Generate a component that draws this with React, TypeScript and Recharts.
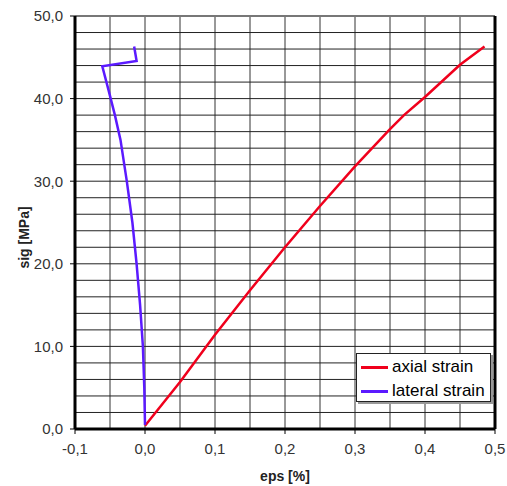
import { LineChart, Line, XAxis, YAxis, ReferenceLine } from "recharts";

const axialEps = [0, 0.05, 0.1, 0.15, 0.2, 0.25, 0.3, 0.35, 0.37, 0.4, 0.45, 0.485];
const axialSig = [0.4, 5.7, 11.4, 16.8, 22.0, 27.0, 31.8, 36.3, 38.0, 40.2, 44.1, 46.3];

const lateralEps = [0, -0.001, -0.003, -0.007, -0.012, -0.018, -0.026, -0.035, -0.043, -0.052, -0.061, -0.012, -0.0155];
const lateralSig = [0.5, 5, 10, 15, 20, 25, 30, 35, 38, 41, 43.9, 44.55, 46.3];

const seriesNames = ["axial strain", "lateral strain"];
const seriesColors = ["#f0001c", "#5b1aff"];

const xTicks = [-0.1, 0, 0.1, 0.2, 0.3, 0.4, 0.5];
const yTicks = [0, 10, 20, 30, 40, 50];
const xGrid = [-0.05, 0, 0.05, 0.1, 0.15, 0.2, 0.25, 0.3, 0.35, 0.4, 0.45];
const yGrid = [2, 4, 6, 8, 10, 12, 14, 16, 18, 20, 22, 24, 26, 28, 30, 32, 34, 36, 38, 40, 42, 44, 46, 48];

const axial = axialEps.map((eps, i) => ({ eps, sig: axialSig[i] }));
const lateral = lateralEps.map((eps, i) => ({ eps, sig: lateralSig[i] }));

const font = "'Liberation Sans', Arial, sans-serif";
const fmt = (v: number) => v.toFixed(1).replace(".", ",");

export default function App() {
  return (
    <div style={{ position: "absolute", left: 0, top: 0, width: 507, height: 486, background: "#fff", fontFamily: font }}>
      <LineChart width={507} height={486} margin={{ top: 16, right: 12, left: 0, bottom: 0 }}>
        <XAxis
          type="number"
          dataKey="eps"
          domain={[-0.1, 0.5]}
          ticks={xTicks}
          tickFormatter={fmt}
          height={57}
          tickSize={5}
          tickMargin={9}
          axisLine={{ stroke: "#000", strokeWidth: 3 }}
          tickLine={{ stroke: "#000" }}
          tick={{ fill: "#333", fontSize: 15, fontFamily: font }}
          allowDataOverflow
          label={{
            content: ({ viewBox }: any) => (
              <text
                x={viewBox.x + viewBox.width / 2}
                y={viewBox.y + 48}
                textAnchor="middle"
                dominantBaseline="middle"
                fontSize={14}
                fontWeight="bold"
                fontFamily={font}
                fill="#222"
              >
                eps [%]
              </text>
            ),
          }}
        />
        <YAxis
          type="number"
          dataKey="sig"
          domain={[0, 50]}
          ticks={yTicks}
          tickFormatter={fmt}
          width={75}
          tickSize={5}
          tickMargin={7}
          axisLine={{ stroke: "#000", strokeWidth: 3 }}
          tickLine={{ stroke: "#000" }}
          tick={{ fill: "#333", fontSize: 15, fontFamily: font }}
          allowDataOverflow
          label={{
            content: ({ viewBox }: any) => {
              const cx = viewBox.x + 25;
              const cy = viewBox.y + viewBox.height / 2 + 15;
              return (
                <text
                  x={cx}
                  y={cy}
                  transform={`rotate(-90, ${cx}, ${cy})`}
                  textAnchor="middle"
                  dominantBaseline="middle"
                  fontSize={14}
                  fontWeight="bold"
                  fontFamily={font}
                  fill="#222"
                >
                  sig [MPa]
                </text>
              );
            },
          }}
        />
        {xGrid.map((v) => (
          <ReferenceLine key={"x" + v} x={v} stroke="#333" strokeWidth={1} />
        ))}
        {yGrid.map((v) => (
          <ReferenceLine key={"y" + v} y={v} stroke="#222" strokeWidth={1} />
        ))}
        <ReferenceLine y={50} stroke="#777" strokeWidth={2} />
        <ReferenceLine x={0.5} stroke="#000" strokeWidth={3} />
        <Line
          data={axial}
          dataKey="sig"
          type="linear"
          stroke={seriesColors[0]}
          strokeWidth={2.5}
          dot={false}
          isAnimationActive={false}
        />
        <Line
          data={lateral}
          dataKey="sig"
          type="linear"
          stroke={seriesColors[1]}
          strokeWidth={2.5}
          dot={false}
          isAnimationActive={false}
        />
      </LineChart>
      <div
        style={{
          position: "absolute",
          left: 356,
          top: 353,
          width: 133,
          height: 47,
          border: "1px solid #222",
          background: "#fff",
          boxShadow: "2px 2px 0 #999",
        }}
      >
        {seriesNames.map((name, i) => (
          <div key={name} style={{ display: "flex", alignItems: "center", height: 24, marginTop: i === 0 ? 1 : 0 }}>
            <span style={{ display: "inline-block", width: 27, height: 3, background: seriesColors[i], marginLeft: 4, marginRight: 4 }} />
            <span style={{ fontSize: 17, color: "#000", whiteSpace: "nowrap" }}>{name}</span>
          </div>
        ))}
      </div>
    </div>
  );
}
